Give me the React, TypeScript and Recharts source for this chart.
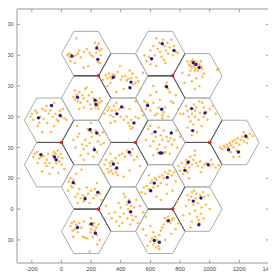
import React from 'react';
import {
  ScatterChart, Scatter, XAxis, YAxis, ReferenceArea
} from 'recharts';

// three-sector sites (shared hexagon corner)
const SITES: [number, number][] = [
  [250, 866], [750, 866], [0, 433], [500, 433], [1000, 433], [250, 0], [750, 0],
];

// cell radius
const R = 500 / 3;

const X_TICKS = [-200, 0, 200, 400, 600, 800, 1000, 1200, 1400];
const Y_TICKS = [-200, 0, 200, 400, 600, 800, 1000, 1200];

// serving stations, three per sector
const STATIONS: [number, number][] = [
  [70, 994], [238, 1046], [245, 973],
  [350, 857], [469, 825], [462, 788],
  [608, 977], [680, 1075], [759, 1031],
  [889, 951], [907, 940], [929, 920],
  [108, 727], [227, 708], [233, 680],
  [709, 795], [581, 673], [676, 649],
  [-67, 673], [-155, 593], [-9, 608],
  [406, 664], [373, 619], [489, 560],
  [878, 653], [968, 625], [885, 510],
  [193, 517], [238, 495], [222, 386],
  [631, 502], [741, 495], [665, 365], [676, 365],
  [1244, 473], [1127, 386], [1194, 371],
  [-139, 354], [-47, 339], [-36, 321],
  [458, 369], [350, 293], [373, 267],
  [855, 304], [833, 252], [990, 289],
  [79, 172], [159, 67], [245, 109],
  [456, 46], [467, -17],
  [889, 52], [941, 72], [927, -102],
  [626, 169], [602, 119], [714, 206],
  [108, -119], [202, -96], [229, -156],
  [626, -204], [660, -215], [721, -76],
];

// user positions, grouped by sector
const USERS: [number, number][] = [
  // (167, 1010)
  [40, 1000], [50, 1010], [55, 985], [65, 1005], [80, 990], [95, 1000], [100, 1108], [120, 1030],
  [130, 985], [150, 1020], [170, 1040], [190, 1015], [200, 1000], [215, 990], [225, 1080], [235, 1015],
  [240, 1060], [250, 1075], [255, 1030], [260, 950], [265, 1000], [245, 955], [150, 920], [90, 950],
  [180, 930], [270, 1040], [110, 1010], [60, 960],
  // (417, 866)
  [300, 870], [310, 850], [320, 880], [330, 860], [340, 845], [345, 875], [360, 870], [380, 890],
  [395, 930], [410, 860], [430, 865], [440, 835], [450, 845], [470, 850], [485, 810], [505, 855],
  [530, 780], [550, 885], [420, 780], [370, 760], [310, 800], [330, 820], [460, 900], [480, 880],
  [500, 820], [520, 830], [400, 840], [280, 840],
  // (667, 1010)
  [560, 1000], [575, 960], [590, 990], [600, 940], [620, 1060], [630, 1000], [640, 930], [650, 1040],
  [660, 1080], [665, 1020], [675, 990], [685, 1100], [695, 1060], [700, 950], [705, 1030], [715, 1080],
  [720, 1010], [730, 1050], [740, 1100], [750, 1000], [760, 1060], [770, 1020], [785, 1015], [690, 970],
  [640, 1110], [600, 1030],
  // (917, 866)
  [850, 960], [860, 940], [870, 930], [875, 960], [880, 920], [885, 970], [895, 930], [900, 960],
  [905, 915], [915, 950], [920, 900], [930, 940], [940, 960], [945, 925], [950, 910], [1050, 905],
  [1060, 910], [950, 860], [930, 800], [900, 780], [880, 830], [910, 850], [860, 870], [815, 885],
  [830, 820], [960, 880], [870, 900], [900, 900],
  // (167, 722)
  [80, 730], [90, 710], [100, 745], [110, 700], [120, 760], [130, 690], [140, 740], [150, 720],
  [160, 780], [170, 790], [175, 700], [185, 740], [195, 680], [205, 760], [215, 720], [225, 690],
  [230, 660], [240, 700], [245, 670], [250, 650], [255, 690], [260, 720], [200, 650], [150, 660],
  [120, 650], [270, 700], [90, 770],
  // (667, 722)
  [560, 700], [570, 650], [580, 690], [600, 640], [620, 690], [630, 610], [645, 620], [655, 660],
  [665, 710], [680, 610], [690, 630], [700, 800], [710, 820], [720, 780], [730, 760], [740, 700],
  [755, 690], [770, 740], [790, 650], [800, 620], [640, 760], [600, 740], [620, 800], [700, 660],
  [720, 600], [680, 590],
  // (-83, 577)
  [-210, 600], [-200, 620], [-190, 580], [-175, 640], [-165, 625], [-150, 560], [-140, 600], [-130, 650],
  [-120, 585], [-110, 640], [-100, 670], [-95, 560], [-85, 620], [-75, 640], [-60, 600], [-50, 540],
  [-40, 620], [-30, 580], [-20, 570], [-10, 640], [0, 600], [10, 650], [20, 590], [35, 580],
  [-130, 500], [-70, 500], [-160, 540], [-50, 690],
  // (417, 577)
  [290, 620], [310, 640], [320, 660], [330, 610], [340, 640], [350, 600], [355, 670], [365, 640],
  [370, 690], [380, 620], [390, 650], [400, 600], [420, 580], [440, 600], [450, 560], [460, 540],
  [470, 580], [480, 530], [500, 600], [520, 590], [540, 640], [550, 610], [420, 660], [460, 650],
  [360, 570], [330, 560], [500, 700], [470, 520],
  // (917, 577)
  [820, 620], [840, 670], [850, 640], [860, 600], [870, 570], [880, 620], [890, 550], [895, 680],
  [900, 600], [910, 660], [915, 500], [925, 580], [935, 625], [945, 540], [950, 690], [960, 600],
  [975, 630], [985, 580], [1000, 650], [1020, 670], [1040, 620], [880, 480], [850, 530], [930, 700],
  [960, 660], [900, 640],
  // (167, 433)
  [80, 450], [95, 400], [105, 540], [120, 490], [130, 350], [140, 420], [150, 390], [160, 450],
  [170, 410], [175, 520], [185, 510], [190, 430], [200, 500], [205, 470], [215, 340], [220, 400],
  [230, 510], [240, 490], [245, 440], [255, 480], [265, 420], [280, 500], [285, 430], [180, 360],
  [150, 320], [240, 370], [200, 560], [110, 470],
  // (667, 433)
  [570, 450], [585, 520], [600, 410], [610, 490], [620, 440], [635, 470], [645, 390], [655, 530],
  [660, 420], [670, 480], [680, 450], [690, 510], [700, 400], [710, 470], [720, 440], [735, 460],
  [745, 420], [760, 450], [775, 510], [780, 400], [650, 365], [690, 365], [700, 370], [730, 360],
  [620, 350], [600, 540], [800, 470],
  // (1167, 433)
  [1070, 400], [1085, 390], [1095, 410], [1105, 400], [1115, 420], [1125, 405], [1135, 430], [1145, 415],
  [1155, 440], [1160, 400], [1170, 450], [1180, 430], [1190, 460], [1200, 420], [1210, 450], [1220, 470],
  [1230, 440], [1240, 480], [1255, 460], [1270, 490], [1290, 475], [1140, 370], [1160, 340], [1200, 340],
  [1180, 380], [1230, 500], [1250, 430],
  // (-83, 289)
  [-190, 340], [-180, 360], [-165, 370], [-150, 330], [-135, 340], [-120, 345], [-110, 300], [-100, 320],
  [-90, 360], [-80, 300], [-60, 350], [-50, 370], [-40, 360], [-35, 300], [-25, 380], [-20, 340],
  [-15, 310], [-5, 360], [5, 330], [20, 260], [-130, 245], [-80, 230], [-20, 235], [-100, 280],
  [-60, 270], [-160, 300], [0, 290],
  // (417, 289)
  [290, 290], [300, 320], [310, 260], [320, 240], [325, 300], [330, 280], [335, 250], [340, 310],
  [345, 230], [355, 290], [360, 260], [365, 330], [370, 240], [380, 300], [390, 350], [410, 360],
  [430, 340], [445, 380], [470, 350], [490, 320], [510, 340], [530, 280], [460, 250], [420, 210],
  [285, 230], [330, 360], [480, 390], [380, 220],
  // (917, 289)
  [790, 280], [800, 250], [810, 300], [820, 230], [830, 270], [840, 320], [845, 290], [850, 240],
  [860, 310], [865, 270], [870, 340], [880, 290], [890, 320], [900, 350], [910, 300], [920, 280],
  [935, 310], [950, 270], [965, 290], [980, 300], [1000, 280], [1020, 290], [1040, 270], [1060, 285],
  [900, 380], [940, 240], [860, 200], [1010, 320],
  // (167, 144)
  [45, 120], [50, 180], [60, 200], [65, 150], [75, 140], [80, 190], [90, 165], [100, 230],
  [110, 100], [120, 130], [130, 70], [135, 255], [145, 90], [150, 50], [160, 80], [170, 140],
  [180, 100], [190, 40], [200, 120], [215, 70], [225, 130], [235, 90], [250, 110], [260, 100],
  [270, 60], [110, 40], [95, 80], [240, 170],
  // (417, 0)
  [300, 20], [320, -30], [340, -60], [360, -20], [370, -80], [385, 40], [395, -50], [400, 10],
  [410, -90], [420, -30], [430, 80], [440, 30], [445, -60], [450, 0], [455, 60], [460, -20],
  [465, -100], [470, 20], [475, -40], [480, -70], [490, 10], [500, -50], [505, 60], [515, -90],
  [530, 20], [550, -20], [570, -50], [420, 100], [390, -110],
  // (917, 0)
  [840, 20], [850, 90], [860, 60], [865, -30], [875, 80], [880, 110], [890, 30], [895, 120],
  [900, -10], [905, 70], [910, 100], [915, -50], [920, 40], [925, -70], [930, -90], [935, 90],
  [940, -30], [945, 10], [955, 110], [965, 80], [975, 30], [990, 90], [880, -80], [960, -60],
  [1000, 0], [820, -40], [870, -120],
  // (667, 144)
  [540, 110], [555, 140], [565, 100], [575, 150], [590, 130], [600, 170], [610, 185], [620, 140],
  [630, 200], [640, 190], [650, 150], [660, 210], [670, 170], [680, 220], [690, 200], [700, 240],
  [710, 160], [720, 230], [730, 250], [745, 220], [760, 240], [770, 180], [640, 80], [670, 60],
  [710, 100], [780, 50], [590, 220], [750, 120],
  // (167, -144)
  [60, -110], [70, -90], [75, -140], [85, -80], [90, -130], [100, -100], [110, -150], [120, -90],
  [135, -120], [145, -180], [160, -185], [175, -190], [190, -100], [195, -150], [200, -130], [210, -180],
  [215, -110], [220, -90], [225, -140], [235, -120], [240, -170], [250, -100], [260, -200], [190, -275],
  [80, -180], [240, -230], [150, -80], [200, -60],
  // (667, -144)
  [550, -130], [570, -170], [580, -240], [600, -210], [610, -190], [620, -230], [630, -180], [640, -250],
  [645, -200], [655, -240], [660, -170], [670, -140], [680, -120], [690, -100], [700, -60], [710, -80],
  [720, -50], [735, -90], [745, -70], [755, -60], [770, -130], [790, -90], [660, -260], [600, -110],
  [700, -200], [740, -160], [620, -150],
];

const W = 276;
const H = 279;
const PLOT = { left: 17, right: 269, top: 9, bottom: 263 };
const FONT = 'Liberation Sans, Arial, sans-serif';

const toPts = (arr: [number, number][]) => arr.map(([x, y]) => ({ x, y }));

const deg = Math.PI / 180;

// each site feeds three cells pointing 0, 120 and 240 degrees
const cells = SITES.flatMap(([sx, sy]) =>
  [0, 120, 240].map((a) => [sx + R * Math.cos(a * deg), sy + R * Math.sin(a * deg)])
);

const hexagon = ([cx, cy]: number[]) =>
  [0, 60, 120, 180, 240, 300, 360].map((a) => ({
    x: cx + R * Math.cos(a * deg),
    y: cy + R * Math.sin(a * deg),
  }));

// sector borders around each site
const sectorEdges = ([sx, sy]: [number, number]) => {
  const end = (a: number) => ({ x: sx + R * Math.cos(a * deg), y: sy + R * Math.sin(a * deg) });
  const c = { x: sx, y: sy };
  return [end(60), c, end(180), c, end(300)];
};

const Empty = () => <g />;

const Dot = (fill: string, r: number, opacity = 1) => (props: any) => (
  <circle cx={props.cx} cy={props.cy} r={r} fill={fill} fillOpacity={opacity} />
);

const XTick = ({ x, payload }: any) => (
  <g>
    <line x1={x} x2={x} y1={PLOT.bottom} y2={PLOT.bottom - 3} stroke="#999" />
    <line x1={x} x2={x} y1={PLOT.top} y2={PLOT.top + 3} stroke="#999" />
    <text x={x} y={PLOT.bottom + 7.5} textAnchor="middle" fontSize={5.8} fill="#444"
      fontFamily={FONT}>{payload.value}</text>
  </g>
);

const YTick = ({ y, payload }: any) => (
  <g>
    <line x1={PLOT.left} x2={PLOT.left + 3} y1={y} y2={y} stroke="#999" />
    <line x1={PLOT.right} x2={PLOT.right - 3} y1={y} y2={y} stroke="#999" />
    <text x={PLOT.left - 3.5} y={y + 2} textAnchor="end" fontSize={5.8} fill="#444"
      fontFamily={FONT}>{payload.value}</text>
  </g>
);

export default function App() {
  return (
    <div style={{ margin: -8, width: W, height: H, background: '#fff' }}>
      <ScatterChart width={W} height={H} margin={{ top: PLOT.top, right: W - PLOT.right, left: 0, bottom: 0 }}>
        <XAxis type="number" dataKey="x" domain={[-300, 1400]} ticks={X_TICKS} allowDataOverflow
          axisLine={false} tickLine={false} tick={<XTick />} height={H - PLOT.bottom} interval={0} />
        <YAxis type="number" dataKey="y" domain={[-350, 1300]} ticks={Y_TICKS} allowDataOverflow
          axisLine={false} tickLine={false} tick={<YTick />} width={PLOT.left} interval={0} />
        <ReferenceArea x1={-300} x2={1400} y1={-350} y2={1300} fill="none" stroke="#999"
          strokeWidth={1} ifOverflow="visible" />
        {cells.map((c, i) => (
          <Scatter key={`hex-${i}`} data={hexagon(c)} line={{ stroke: '#aaa', strokeWidth: 1 }}
            lineType="joint" shape={<Empty />} isAnimationActive={false} />
        ))}
        {SITES.map((s, i) => (
          <Scatter key={`edge-${i}`} data={sectorEdges(s)} line={{ stroke: '#555', strokeWidth: 1 }}
            lineType="joint" shape={<Empty />} isAnimationActive={false} />
        ))}
        <Scatter data={toPts(USERS)} shape={Dot('#fcaf35', 1.3, 0.85)} isAnimationActive={false} />
        <Scatter data={toPts(STATIONS)} shape={Dot('#241a80', 1.7)} isAnimationActive={false} />
        <Scatter data={toPts(SITES)} shape={Dot('#e82020', 1.8)} isAnimationActive={false} />
      </ScatterChart>
    </div>
  );
}
